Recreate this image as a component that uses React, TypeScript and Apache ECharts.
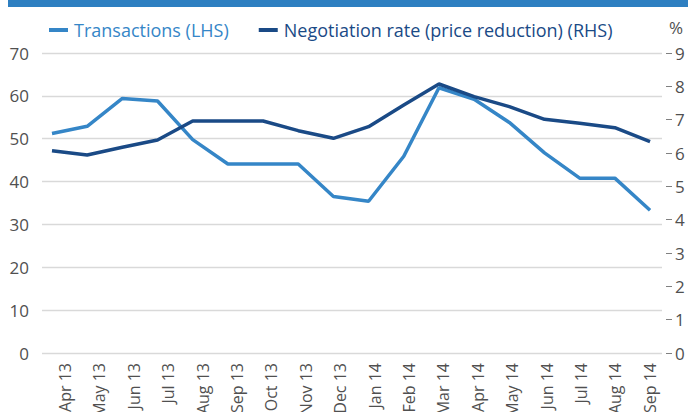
import React, { useEffect, useRef } from "react";
import * as echarts from "echarts";

const categories = [
  "Apr 13", "May 13", "Jun 13", "Jul 13", "Aug 13", "Sep 13", "Oct 13", "Nov 13", "Dec 13",
  "Jan 14", "Feb 14", "Mar 14", "Apr 14", "May 14", "Jun 14", "Jul 14", "Aug 14", "Sep 14",
];
const transactions = [51.2, 52.9, 59.4, 58.8, 49.8, 44.1, 44.1, 44.1, 36.5, 35.4, 45.9, 61.9, 59.2, 53.8, 46.7, 40.8, 40.8, 33.3];
const negotiationRate = [6.07, 5.94, 6.17, 6.39, 6.96, 6.96, 6.96, 6.67, 6.44, 6.79, 7.44, 8.07, 7.69, 7.39, 7.01, 6.89, 6.76, 6.34];
const leftTicks = { min: 0, max: 70, interval: 10 };
const rightTicks = { min: 0, max: 9, interval: 1 };

const LIGHT = "#3586c7";
const DARK = "#1a4a86";
const FONT = "Open Sans";

export default function App() {
  const ref = useRef<HTMLDivElement>(null);
  useEffect(() => {
    document.body.style.margin = "0";
    if (!ref.current) return;
    const chart = echarts.init(ref.current, null, { renderer: "svg" });
    const labelPos = categories.map((_, i) => 0.37 + 0.978 * i);
    const nearest = (v: number) => {
      let best = 0;
      labelPos.forEach((p, i) => {
        if (Math.abs(p - v) < Math.abs(labelPos[best] - v)) best = i;
      });
      return categories[best];
    };
    chart.setOption({
      animation: false,
      textStyle: { fontFamily: FONT },
      graphic: [
        { type: "rect", shape: { x: 8, y: 0, width: 680, height: 7 }, style: { fill: "#2e7fc1" } },
      ],
      legend: {
        left: 44,
        top: 16,
        itemGap: 30,
        itemWidth: 19,
        itemHeight: 4,
        icon: "rect",
        textStyle: { fontSize: 18, fontFamily: FONT, padding: [0, 0, 0, 1] },
        data: [
          { name: "Transactions (LHS)", textStyle: { color: LIGHT } },
          { name: "Negotiation rate (price reduction) (RHS)", textStyle: { color: DARK } },
        ],
      },
      grid: { left: 42, right: 26, top: 53, bottom: 59, containLabel: false, outerBoundsMode: "none" },
      xAxis: {
        type: "value",
        min: -0.284,
        max: 17.34,
        axisLine: { show: false },
        axisTick: { show: false },
        splitLine: { show: false },
        axisLabel: {
          customValues: labelPos,
          rotate: 90,
          margin: 10,
          fontSize: 16,
          color: "#505050",
          fontFamily: FONT,
          formatter: (v: number) => nearest(v),
        },
      },
      yAxis: [
        {
          type: "value",
          ...leftTicks,
          axisLine: { show: false },
          axisTick: { show: false },
          splitLine: { lineStyle: { color: "#d9d9d9", width: 1.3 } },
          axisLabel: { fontSize: 17, color: "#505050", margin: 13, fontFamily: FONT },
        },
        {
          type: "value",
          ...rightTicks,
          position: "right",
          offset: 4,
          name: "%",
          nameLocation: "end",
          nameGap: 26,
          nameTextStyle: { fontSize: 17, color: "#505050", align: "left", verticalAlign: "middle", padding: [0, 0, 0, 3], fontFamily: FONT },
          axisLine: { show: false },
          axisTick: { show: true, length: 6, lineStyle: { color: "#808080", width: 1 } },
          splitLine: { show: false },
          axisLabel: { fontSize: 17, color: "#505050", margin: 9, fontFamily: FONT },
        },
      ],
      series: [
        {
          name: "Transactions (LHS)",
          type: "line",
          yAxisIndex: 0,
          symbol: "none",
          lineStyle: { color: LIGHT, width: 3.5 },
          itemStyle: { color: LIGHT },
          data: transactions.map((v, i) => [i, v]),
        },
        {
          name: "Negotiation rate (price reduction) (RHS)",
          type: "line",
          yAxisIndex: 1,
          symbol: "none",
          lineStyle: { color: DARK, width: 3.5 },
          itemStyle: { color: DARK },
          data: negotiationRate.map((v, i) => [i, v]),
        },
      ],
    });
    return () => chart.dispose();
  }, []);
  return <div ref={ref} style={{ width: 688, height: 412 }} />;
}
